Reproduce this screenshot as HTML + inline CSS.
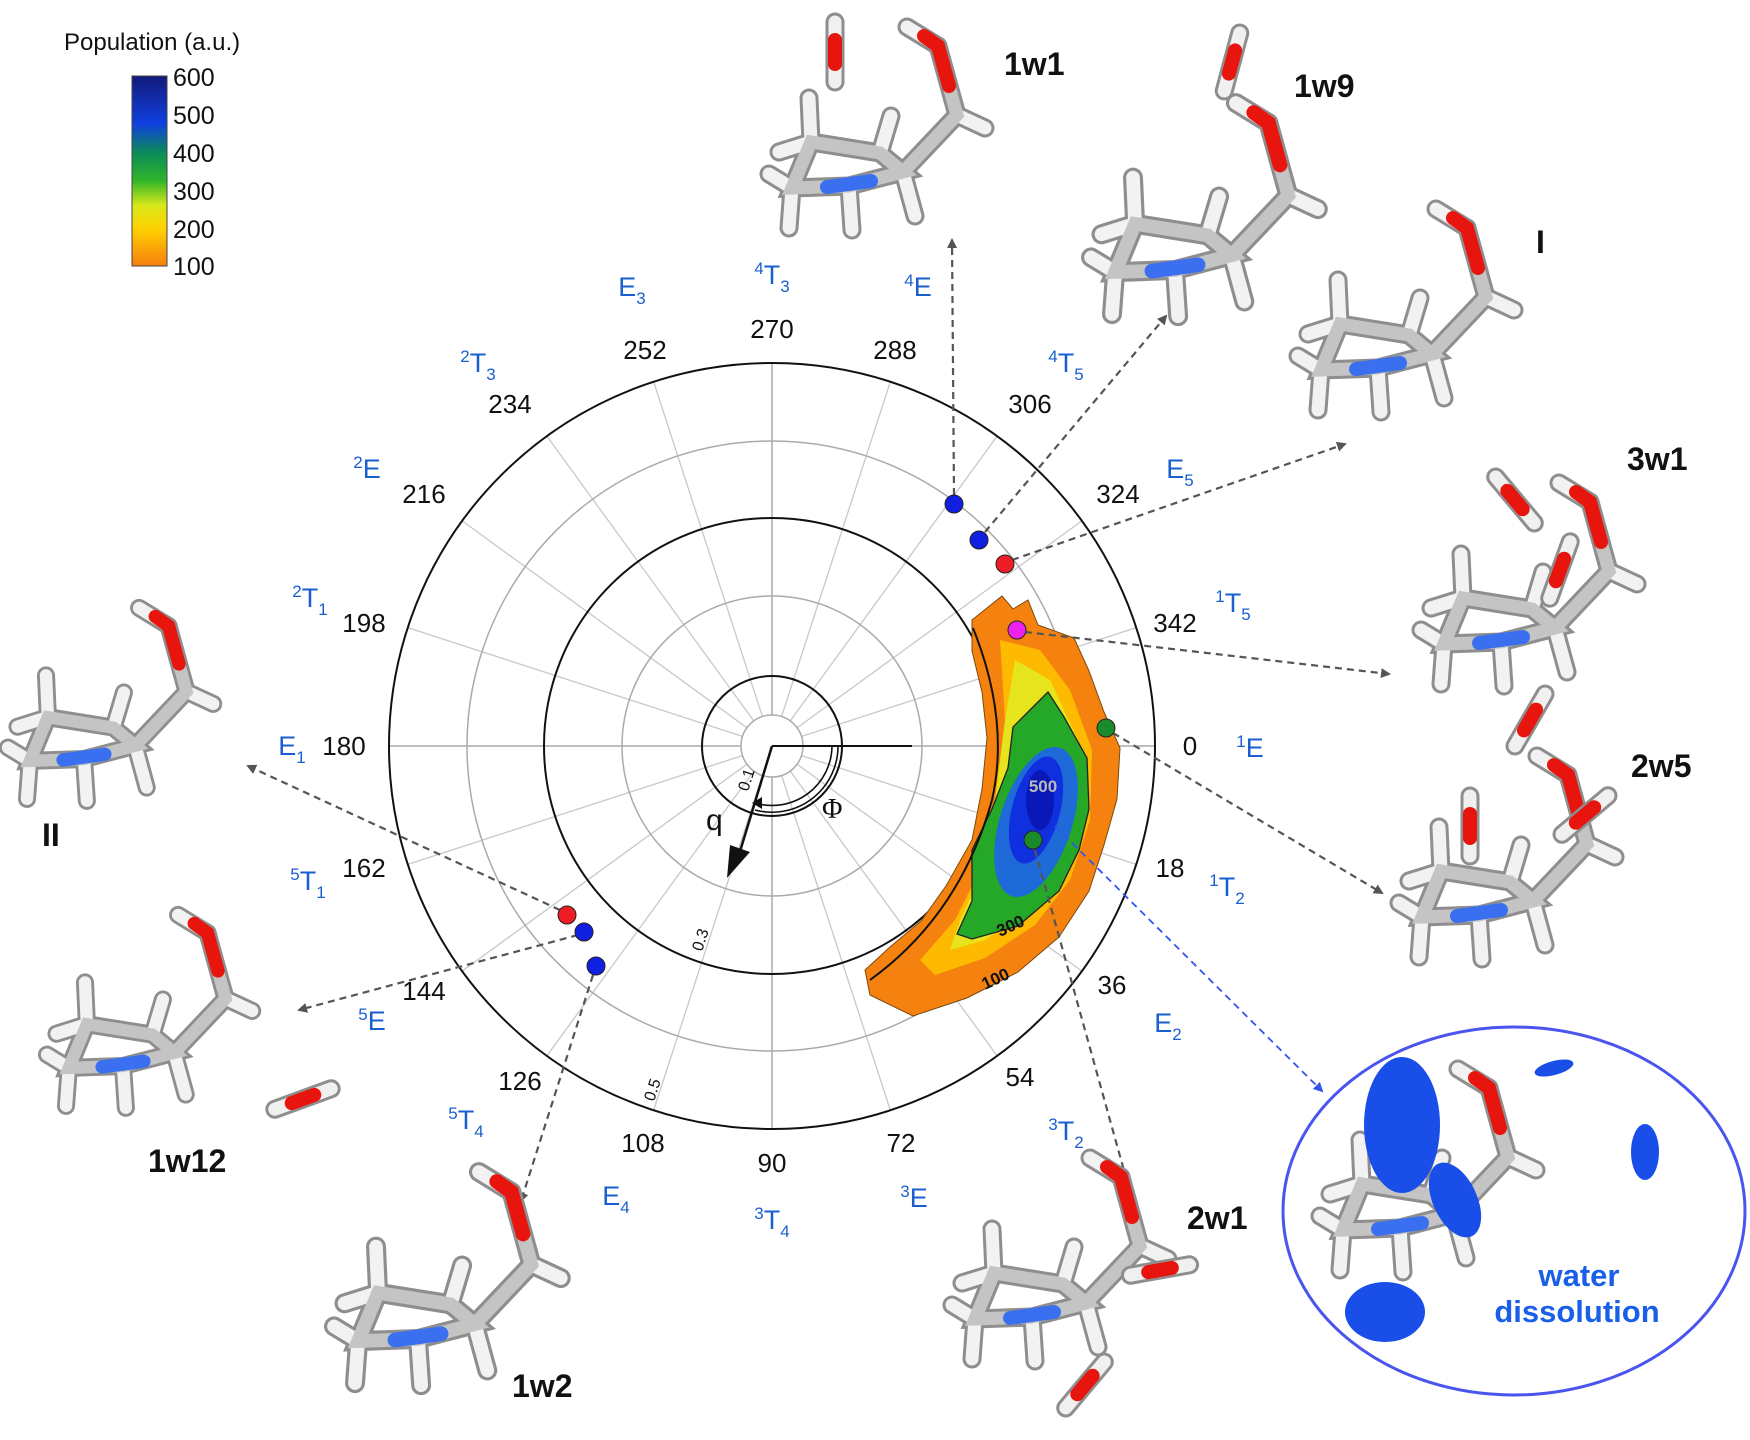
<!DOCTYPE html>
<html><head><meta charset="utf-8"><style>
html,body{margin:0;padding:0;background:#fff}
svg{display:block;font-family:"Liberation Sans",Arial,sans-serif}
.n{font-size:26px;fill:#111;text-anchor:middle}
.b{font-size:27px;fill:#1a5fd0;text-anchor:middle}
.s{font-size:17px}
.t{font-size:32px;font-weight:bold;fill:#111}
.c{font-size:25px;fill:#111}
</style></head><body>
<svg width="1750" height="1440" viewBox="0 0 1750 1440" xmlns="http://www.w3.org/2000/svg">
<defs>
<linearGradient id="cb" x1="0" y1="1" x2="0" y2="0">
<stop offset="0" stop-color="#f57f0d"/><stop offset="0.2" stop-color="#ffd200"/><stop offset="0.32" stop-color="#d7e81a"/><stop offset="0.45" stop-color="#2fb52a"/><stop offset="0.6" stop-color="#0a8a5a"/><stop offset="0.75" stop-color="#1040e0"/><stop offset="1" stop-color="#121a7a"/>
</linearGradient>
<marker id="ah" markerWidth="10" markerHeight="10" refX="8" refY="5" orient="auto" markerUnits="userSpaceOnUse"><path d="M0,0 L10,5 L0,10 Z" fill="#555"/></marker>
<marker id="ahb" markerWidth="10" markerHeight="10" refX="8" refY="5" orient="auto" markerUnits="userSpaceOnUse"><path d="M0,0 L10,5 L0,10 Z" fill="#3355ee"/></marker>
<g id="mol" stroke-linecap="round" fill="none">
<g stroke="#8e8e8e" stroke-width="19">
<path d="M-57,2 L-80,-12 M-57,2 L-60,42 M-38,-44 L-40,-88 M-38,-44 L-70,-34 M31,-33 L42,-70 M54,-14 L66,30 M108,-71 L136,-58 M0,0 L3,44 M89,-140 L58,-159"/>
<path d="M0,0 L54,-14 L31,-33 L-38,-44 L-57,2 Z M54,-14 L108,-71 L89,-140"/>
</g>
<g stroke="#f2f2f2" stroke-width="13">
<path d="M-57,2 L-80,-12 M-57,2 L-60,42 M-38,-44 L-40,-88 M-38,-44 L-70,-34 M31,-33 L42,-70 M54,-14 L66,30 M108,-71 L136,-58 M0,0 L3,44 M89,-140 L58,-159"/>
</g>
<g stroke="#c4c4c4" stroke-width="13">
<path d="M0,0 L54,-14 L31,-33 L-38,-44 L-57,2 Z M54,-14 L108,-71 L89,-140"/>
</g>
<path d="M-22,1 L22,-5" stroke="#3a6ff0" stroke-width="14"/>
<path d="M100,-100 L89,-140 L75,-150" stroke="#e8150e" stroke-width="14"/>
</g>
<g id="wat" stroke-linecap="round" fill="none">
<path d="M0,-30 L0,30" stroke="#8e8e8e" stroke-width="19"/>
<path d="M0,-30 L0,30" stroke="#f0f0f0" stroke-width="13"/>
<path d="M0,-12 L0,12" stroke="#e8150e" stroke-width="14"/>
</g>
</defs>

<!-- colorbar -->
<text x="64" y="50" font-size="24" fill="#111">Population (a.u.)</text>
<rect x="132" y="76" width="35" height="190" fill="url(#cb)" stroke="#444" stroke-width="1"/>
<g class="c"><text x="173" y="86">600</text><text x="173" y="124">500</text><text x="173" y="162">400</text><text x="173" y="200">300</text><text x="173" y="238">200</text><text x="173" y="275">100</text></g>

<!-- polar plot -->
<g transform="translate(772,746)">
<g stroke="#c8c8c8" stroke-width="1.3">
<line x1="0" y1="0" x2="383" y2="0" transform="rotate(18)"/><line x1="0" y1="0" x2="383" y2="0" transform="rotate(36)"/><line x1="0" y1="0" x2="383" y2="0" transform="rotate(54)"/><line x1="0" y1="0" x2="383" y2="0" transform="rotate(72)"/><line x1="0" y1="0" x2="383" y2="0" transform="rotate(108)"/><line x1="0" y1="0" x2="383" y2="0" transform="rotate(126)"/><line x1="0" y1="0" x2="383" y2="0" transform="rotate(144)"/><line x1="0" y1="0" x2="383" y2="0" transform="rotate(162)"/><line x1="0" y1="0" x2="383" y2="0" transform="rotate(198)"/><line x1="0" y1="0" x2="383" y2="0" transform="rotate(216)"/><line x1="0" y1="0" x2="383" y2="0" transform="rotate(234)"/><line x1="0" y1="0" x2="383" y2="0" transform="rotate(252)"/><line x1="0" y1="0" x2="383" y2="0" transform="rotate(288)"/><line x1="0" y1="0" x2="383" y2="0" transform="rotate(306)"/><line x1="0" y1="0" x2="383" y2="0" transform="rotate(324)"/><line x1="0" y1="0" x2="383" y2="0" transform="rotate(342)"/>
</g>
<g stroke="#aaa" stroke-width="1.5"><line x1="-383" y1="0" x2="383" y2="0"/><line x1="0" y1="-383" x2="0" y2="383"/></g>
<g fill="none" stroke="#aaa" stroke-width="1.5"><circle r="150"/><circle r="305"/></g>
<circle r="31" fill="#fff" stroke="#aaa" stroke-width="1.5"/>
<g fill="none" stroke="#111" stroke-width="2"><circle r="70"/><circle r="228"/><circle r="383"/></g>
</g>

<!-- heatmap -->
<path d="M972,620 L1002,596 L1013,609 L1028,600 L1038,625 L1074,638 L1089,671 L1104,712 L1120,748 L1117,799 L1104,845 L1089,891 L1059,937 L1018,972 L967,998 L913,1016 L870,995 L865,970 L890,947 L921,921 L946,886 L972,840 L982,789 L987,738 L982,692 L972,651 Z" fill="#f5820e" stroke="#7a4a10" stroke-width="1"/>
<path d="M1000,640 L1040,650 L1070,690 L1092,750 L1090,820 L1070,880 L1035,925 L985,958 L935,975 L920,960 L955,920 L985,860 L1000,790 L1005,720 Z" fill="#ffc000" opacity="0.9"/>
<path d="M1015,660 L1050,680 L1078,740 L1080,810 L1065,865 L1030,910 L985,940 L950,950 L960,920 L985,865 L995,800 L1005,720 Z" fill="#e6e41c"/>
<path d="M1048,692 L1064,717 L1087,758 L1089,809 L1079,850 L1059,891 L1018,926 L972,939 L957,934 L972,901 L972,850 L992,809 L1008,768 L1013,727 L1033,707 Z" fill="#25a828" stroke="#222" stroke-width="1.3"/>
<ellipse cx="1036" cy="822" rx="36" ry="78" transform="rotate(18 1036 822)" fill="#1e6ad8"/>
<ellipse cx="1036" cy="810" rx="24" ry="55" transform="rotate(15 1036 810)" fill="#1030e0"/>
<ellipse cx="1040" cy="800" rx="14" ry="30" fill="#0a18b8"/>
<path d="M973,628 Q1010,720 992,800 Q960,915 870,980" fill="none" stroke="#111" stroke-width="2"/>
<text x="1043" y="792" font-size="17" font-weight="bold" fill="#bbb" text-anchor="middle">500</text>
<text x="1000" y="937" font-size="17" font-weight="bold" fill="#111" transform="rotate(-25 1000 937)">300</text>
<text x="985" y="990" font-size="17" font-weight="bold" fill="#111" transform="rotate(-25 985 990)">100</text>

<!-- center axes -->
<line x1="772" y1="746" x2="912" y2="746" stroke="#111" stroke-width="2"/>
<line x1="772" y1="746" x2="738" y2="858" stroke="#111" stroke-width="2.5"/>
<path d="M727,878 L730,845 L750,852 Z" fill="#111"/>
<path d="M832,746 A60,60 0 0 1 755,803" fill="none" stroke="#111" stroke-width="1.6"/>
<path d="M838,746 A66,66 0 0 1 755,810" fill="none" stroke="#111" stroke-width="1.6"/>
<path d="M752,803 L762,797 L762,809 Z" fill="#111"/>
<text x="706" y="830" font-size="30" fill="#111">q</text>
<text x="822" y="818" font-size="28" fill="#111" font-family="Liberation Serif,serif">Φ</text>
<text x="748" y="792" font-size="16" fill="#111" transform="rotate(-72 748 792)">0.1</text>
<text x="702" y="952" font-size="16" fill="#111" transform="rotate(-72 702 952)">0.3</text>
<text x="654" y="1102" font-size="16" fill="#111" transform="rotate(-72 654 1102)">0.5</text>

<!-- angle numbers -->
<g class="n">
<text x="1190" y="755">0</text><text x="1170" y="877">18</text><text x="1112" y="994">36</text><text x="1020" y="1086">54</text><text x="901" y="1152">72</text><text x="772" y="1172">90</text><text x="643" y="1152">108</text><text x="520" y="1090">126</text><text x="424" y="1000">144</text><text x="364" y="877">162</text><text x="344" y="755">180</text><text x="364" y="632">198</text><text x="424" y="503">216</text><text x="510" y="413">234</text><text x="645" y="359">252</text><text x="772" y="338">270</text><text x="895" y="359">288</text><text x="1030" y="413">306</text><text x="1118" y="503">324</text><text x="1175" y="632">342</text>
</g>
<!-- conformer labels -->
<g class="b">
<text x="1250" y="757"><tspan class="s" dy="-10">1</tspan><tspan dy="10">E</tspan></text>
<text x="1227" y="896"><tspan class="s" dy="-10">1</tspan><tspan dy="10">T</tspan><tspan class="s" dy="8">2</tspan></text>
<text x="1168" y="1032">E<tspan class="s" dy="8">2</tspan></text>
<text x="1066" y="1140"><tspan class="s" dy="-10">3</tspan><tspan dy="10">T</tspan><tspan class="s" dy="8">2</tspan></text>
<text x="914" y="1207"><tspan class="s" dy="-10">3</tspan><tspan dy="10">E</tspan></text>
<text x="772" y="1229"><tspan class="s" dy="-10">3</tspan><tspan dy="10">T</tspan><tspan class="s" dy="8">4</tspan></text>
<text x="616" y="1205">E<tspan class="s" dy="8">4</tspan></text>
<text x="466" y="1129"><tspan class="s" dy="-10">5</tspan><tspan dy="10">T</tspan><tspan class="s" dy="8">4</tspan></text>
<text x="372" y="1030"><tspan class="s" dy="-10">5</tspan><tspan dy="10">E</tspan></text>
<text x="308" y="890"><tspan class="s" dy="-10">5</tspan><tspan dy="10">T</tspan><tspan class="s" dy="8">1</tspan></text>
<text x="292" y="755">E<tspan class="s" dy="8">1</tspan></text>
<text x="310" y="607"><tspan class="s" dy="-10">2</tspan><tspan dy="10">T</tspan><tspan class="s" dy="8">1</tspan></text>
<text x="367" y="478"><tspan class="s" dy="-10">2</tspan><tspan dy="10">E</tspan></text>
<text x="478" y="372"><tspan class="s" dy="-10">2</tspan><tspan dy="10">T</tspan><tspan class="s" dy="8">3</tspan></text>
<text x="632" y="296">E<tspan class="s" dy="8">3</tspan></text>
<text x="772" y="284"><tspan class="s" dy="-10">4</tspan><tspan dy="10">T</tspan><tspan class="s" dy="8">3</tspan></text>
<text x="918" y="296"><tspan class="s" dy="-10">4</tspan><tspan dy="10">E</tspan></text>
<text x="1066" y="372"><tspan class="s" dy="-10">4</tspan><tspan dy="10">T</tspan><tspan class="s" dy="8">5</tspan></text>
<text x="1180" y="478">E<tspan class="s" dy="8">5</tspan></text>
<text x="1233" y="612"><tspan class="s" dy="-10">1</tspan><tspan dy="10">T</tspan><tspan class="s" dy="8">5</tspan></text>
</g>

<!-- dashed arrows -->
<g stroke="#555" stroke-width="2.2" stroke-dasharray="7,5" fill="none" marker-end="url(#ah)">
<line x1="954" y1="495" x2="952" y2="240"/>
<line x1="985" y1="532" x2="1166" y2="316"/>
<line x1="1012" y1="560" x2="1345" y2="444"/>
<line x1="1025" y1="632" x2="1389" y2="674"/>
<line x1="1113" y1="733" x2="1382" y2="893"/>
<line x1="1035" y1="850" x2="1133" y2="1203"/>
<line x1="560" y1="910" x2="248" y2="766"/>
<line x1="578" y1="935" x2="299" y2="1010"/>
<line x1="593" y1="975" x2="521" y2="1201"/>
</g>
<line x1="1055" y1="826" x2="1322" y2="1091" stroke="#3355ee" stroke-width="1.8" stroke-dasharray="7,5" marker-end="url(#ahb)"/>

<!-- dots -->
<g stroke="#222" stroke-width="1">
<circle cx="954" cy="504" r="9" fill="#1020e0"/>
<circle cx="979" cy="540" r="9" fill="#1020e0"/>
<circle cx="1005" cy="564" r="9" fill="#ee1c24"/>
<circle cx="1017" cy="630" r="9" fill="#ee22ee"/>
<circle cx="1106" cy="728" r="9" fill="#1a8a2a"/>
<circle cx="1033" cy="840" r="9" fill="#1a8a2a"/>
<circle cx="567" cy="915" r="9" fill="#ee1c24"/>
<circle cx="584" cy="932" r="9" fill="#1020e0"/>
<circle cx="596" cy="966" r="9" fill="#1020e0"/>
</g>

<!-- molecules -->
<use href="#mol" transform="translate(849,186)"/>
<use href="#wat" transform="translate(835,52)"/>
<use href="#mol" transform="translate(1175,270) scale(1.05)"/>
<use href="#wat" transform="translate(1232,62) rotate(15)"/>
<use href="#mol" transform="translate(1378,368)"/>
<use href="#mol" transform="translate(1501,642)"/>
<use href="#wat" transform="translate(1515,500) rotate(-40)"/>
<use href="#wat" transform="translate(1560,570) rotate(20)"/>
<use href="#wat" transform="translate(1530,720) rotate(30)"/>
<use href="#mol" transform="translate(1479,915)"/>
<use href="#wat" transform="translate(1470,826)"/>
<use href="#wat" transform="translate(1585,815) rotate(50)"/>
<use href="#mol" transform="translate(84,759) scale(0.95)"/>
<use href="#mol" transform="translate(123,1066) scale(0.95)"/>
<use href="#wat" transform="translate(303,1099) rotate(70)"/>
<use href="#mol" transform="translate(418,1339) scale(1.05)"/>
<use href="#mol" transform="translate(1032,1317)"/>
<use href="#wat" transform="translate(1085,1385) rotate(40)"/>
<use href="#wat" transform="translate(1160,1270) rotate(80)"/>

<!-- labels -->
<g class="t">
<text x="1004" y="75">1w1</text>
<text x="1294" y="97">1w9</text>
<text x="1536" y="253">I</text>
<text x="1627" y="470">3w1</text>
<text x="1631" y="777">2w5</text>
<text x="42" y="846">II</text>
<text x="148" y="1172">1w12</text>
<text x="512" y="1397">1w2</text>
<text x="1187" y="1229">2w1</text>
</g>

<!-- water dissolution -->
<ellipse cx="1514" cy="1211" rx="231" ry="184" fill="#fff" stroke="#4a55ee" stroke-width="3"/>
<use href="#mol" transform="translate(1400,1228)"/>
<g fill="#1a4ee8">
<ellipse cx="1402" cy="1125" rx="38" ry="68"/>
<ellipse cx="1455" cy="1200" rx="22" ry="40" transform="rotate(-25 1455 1200)"/>
<ellipse cx="1385" cy="1312" rx="40" ry="30"/>
<ellipse cx="1554" cy="1068" rx="20" ry="7" transform="rotate(-15 1554 1068)"/>
<ellipse cx="1645" cy="1152" rx="14" ry="28"/>
</g>
<text x="1579" y="1286" font-size="31" font-weight="bold" fill="#1a5fe8" text-anchor="middle">water</text>
<text x="1577" y="1322" font-size="31" font-weight="bold" fill="#1a5fe8" text-anchor="middle">dissolution</text>
</svg>
</body></html>
